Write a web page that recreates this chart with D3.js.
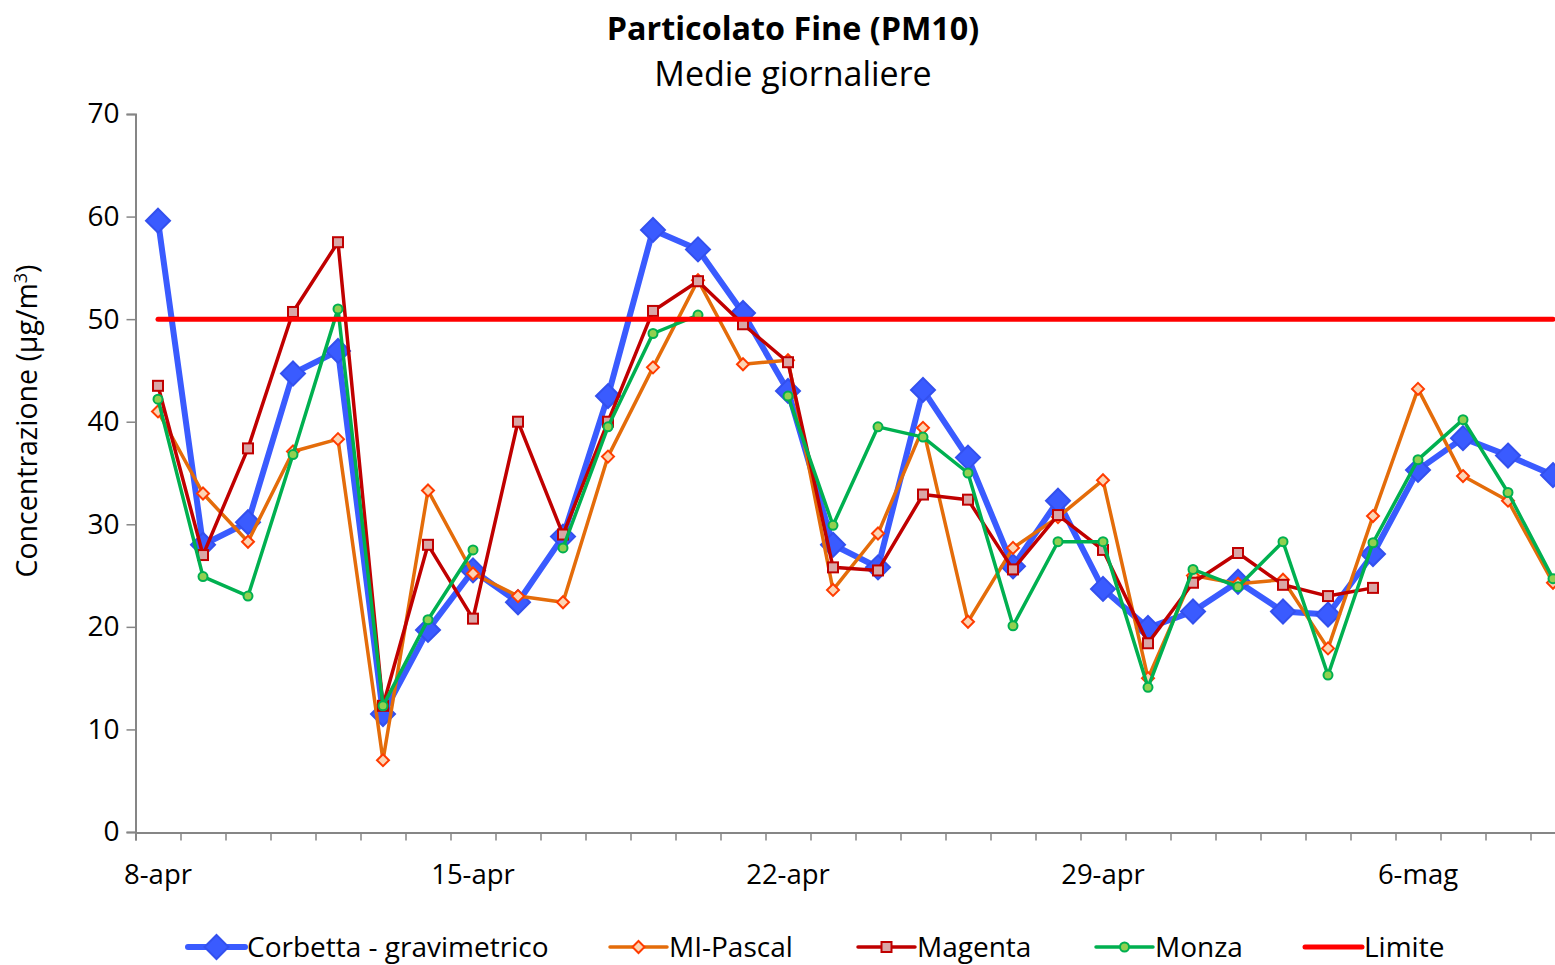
<!DOCTYPE html>
<html>
<head>
<meta charset="utf-8">
<script src="https://cdn.jsdelivr.net/npm/d3@7"></script>
<style>
  body { margin: 0; background: #fff; }
  svg { display: block; font-family: "Open Sans", "Noto Sans", sans-serif; }
</style>
</head>
<body>
<script>
let width = 1555, height = 965

let days = ["8-apr","9-apr","10-apr","11-apr","12-apr","13-apr","14-apr","15-apr","16-apr","17-apr",
    "18-apr","19-apr","20-apr","21-apr","22-apr","23-apr","24-apr","25-apr","26-apr","27-apr",
    "28-apr","29-apr","30-apr","1-mag","2-mag","3-mag","4-mag","5-mag","6-mag","7-mag","8-mag","9-mag"]
let labelDays = ["8-apr","15-apr","22-apr","29-apr","6-mag"]
let yTicks = [0,10,20,30,40,50,60,70]

let corbetta = [59.6,28.0,30.2,44.7,46.9,11.5,19.7,25.5,22.4,28.8,42.5,58.7,56.8,50.6,43.0,28.0,
    25.8,43.1,36.5,25.9,32.3,23.7,19.9,21.5,24.4,21.5,21.2,27.1,35.3,38.4,36.7,34.8]
let pascal = [41.0,33.0,28.3,37.1,38.3,7.0,33.3,25.2,23.0,22.4,36.6,45.3,53.8,45.6,46.0,23.6,
    29.1,39.4,20.5,27.7,30.7,34.3,15.0,25.0,24.2,24.6,17.9,30.8,43.2,34.7,32.3,24.3]
let magenta = [43.5,27.0,37.4,50.7,57.5,12.3,28.0,20.8,40.0,29.0,40.0,50.8,53.7,49.5,45.8,25.8,
    25.5,32.9,32.4,25.6,30.9,27.5,18.4,24.3,27.2,24.1,23.0,23.8,null,null,null,null]
let monza = [42.2,24.9,23.0,36.8,51.0,12.3,20.7,27.5,null,27.7,39.5,48.6,50.4,null,42.5,29.9,
    39.5,38.5,35.0,20.1,28.3,28.3,14.1,25.6,23.9,28.3,15.3,28.2,36.3,40.2,33.1,24.7]
let limite = days.map(() => 50)

let series = [
    {name: "Corbetta - gravimetrico", values: corbetta, color: "#3A5BFF", width: 6, marker: "diamond", size: 12, fill: "#3A5BFF", stroke: "#3350EE"},
    {name: "MI-Pascal", values: pascal, color: "#E46C0A", width: 3.5, marker: "diamond", size: 6, fill: "#FCD5B4", stroke: "#FF3C00"},
    {name: "Magenta", values: magenta, color: "#C00000", width: 3.5, marker: "square", size: 5, fill: "#D9A7A7", stroke: "#C00000"},
    {name: "Monza", values: monza, color: "#00B050", width: 3.5, marker: "circle", size: 5, fill: "#92D050", stroke: "#00B050"},
    {name: "Limite", values: limite, color: "#FF0000", width: 5, marker: null}
]

let svg = d3.select("body").append("svg")
    .attr("width", width)
    .attr("height", height)

let x = d3.scaleLinear().domain([0, days.length]).range([135.5, 135.5 + 45 * days.length])
let y = d3.scaleLinear().domain([0, 70]).range([832, 114])
let cx = i => x(i + 0.5)

// title
svg.append("text").attr("x", 793).attr("y", 40).attr("text-anchor", "middle")
    .attr("font-size", 32.3).attr("font-weight", "bold").text("Particolato Fine (PM10)")
svg.append("text").attr("x", 793).attr("y", 86).attr("text-anchor", "middle")
    .attr("font-size", 34).text("Medie giornaliere")

// axes
let yAxis = svg.append("g").attr("transform", "translate(135.5,0)")
    .call(d3.axisLeft(y).tickValues(yTicks).tickSize(9).tickPadding(7).tickFormat(d3.format("d")))
yAxis.attr("font-family", null).attr("font-size", 28)
yAxis.selectAll("text").attr("fill", "#000")

let xAxis = svg.append("g").attr("transform", "translate(0,832.5)")
    .call(d3.axisBottom(x).tickValues(d3.range(days.length + 1)).tickSize(8).tickFormat(""))
svg.selectAll(".domain").attr("stroke", "#868686").attr("stroke-width", 2)
svg.selectAll(".tick line").attr("stroke", "#868686").attr("stroke-width", 1.5)

svg.append("g").selectAll("text")
    .data(labelDays)
    .enter().append("text")
    .attr("x", d => cx(days.indexOf(d)))
    .attr("y", 884)
    .attr("text-anchor", "middle")
    .attr("font-size", 27.5)
    .text(d => d)

svg.append("text")
    .attr("transform", "translate(37,421) rotate(-90)")
    .attr("text-anchor", "middle")
    .attr("font-size", 28.5)
    .html("Concentrazione (µg/m<tspan dy='-10' font-size='18'>3</tspan><tspan dy='10'>)</tspan>")

// markers
function drawMarker(g, s, px, py) {
    if (s.marker == "diamond") {
        let r = s.size
        g.append("path").attr("d", `M${px},${py - r}L${px + r},${py}L${px},${py + r}L${px - r},${py}Z`)
            .attr("fill", s.fill).attr("stroke", s.stroke).attr("stroke-width", 2)
    } else if (s.marker == "square") {
        g.append("rect").attr("x", px - s.size).attr("y", py - s.size)
            .attr("width", s.size * 2).attr("height", s.size * 2)
            .attr("fill", s.fill).attr("stroke", s.stroke).attr("stroke-width", 2)
    } else if (s.marker == "circle") {
        g.append("circle").attr("cx", px).attr("cy", py).attr("r", s.size - 0.5)
            .attr("fill", s.fill).attr("stroke", s.stroke).attr("stroke-width", 2)
    }
}

let line = d3.line()
    .defined(d => d != null)
    .x((d, i) => cx(i))
    .y(d => y(d))

series.forEach(s => {
    let g = svg.append("g")
    g.append("path")
        .attr("d", line(s.values))
        .attr("fill", "none")
        .attr("stroke", s.color)
        .attr("stroke-width", s.width)
        .attr("stroke-linejoin", "round")
        .attr("stroke-linecap", "round")
    if (s.marker) {
        s.values.forEach((v, i) => {
            if (v != null) drawMarker(g, s, cx(i), y(v))
        })
    }
})

// legend
let legendX = [188, 610, 858, 1096, 1305]
series.forEach((s, i) => {
    let g = svg.append("g").attr("transform", `translate(${legendX[i]},947)`)
    g.append("line").attr("x1", 0).attr("x2", 57)
        .attr("stroke", s.color).attr("stroke-width", s.width)
        .attr("stroke-linecap", "round")
    if (s.marker) drawMarker(g, s, 28.5, 0)
    g.append("text").attr("x", 59).attr("y", 10).attr("font-size", 28).text(s.name)
})
</script>
</body>
</html>
